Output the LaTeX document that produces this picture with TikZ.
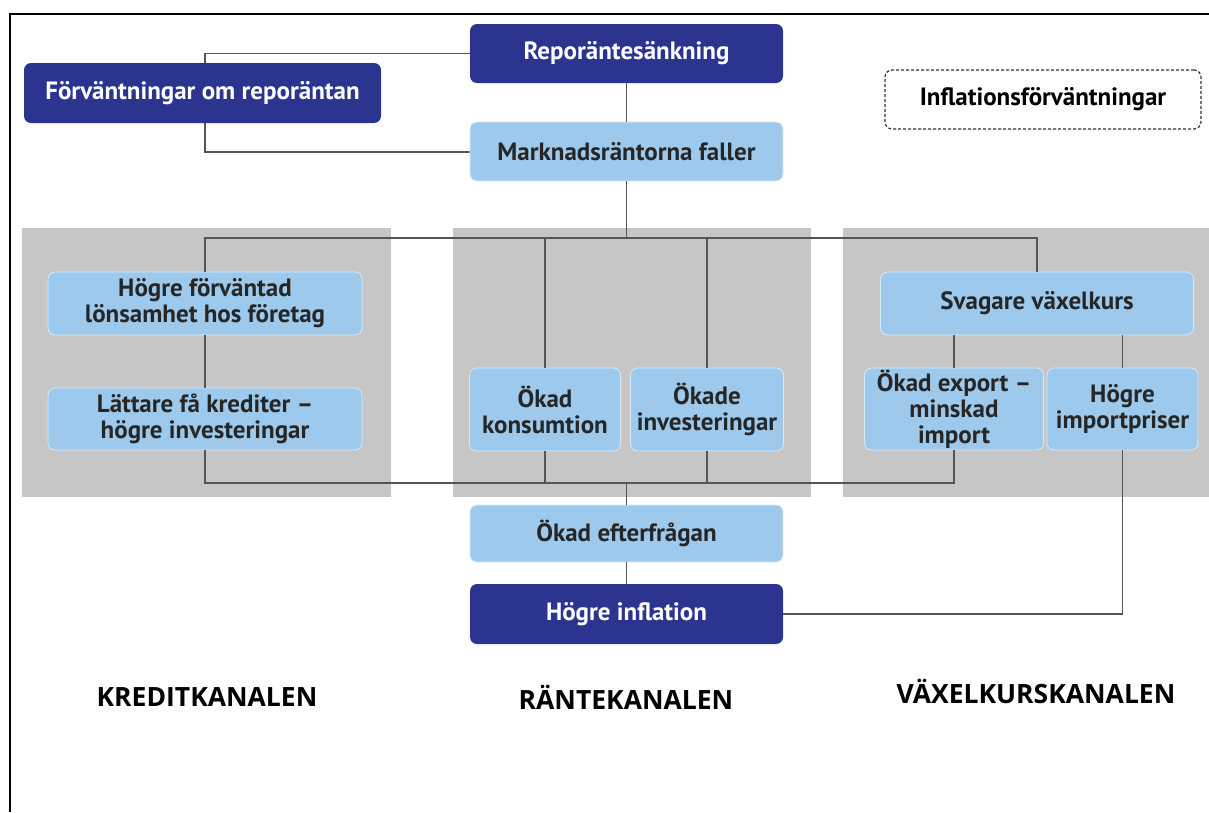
\documentclass[tikz,border=0pt]{standalone}
\usepackage{fontspec}
\setmainfont{PT Sans}
\newfontfamily\chanfont{Open Sans}
\usepackage{xcolor}
\usepackage{tikz}
\usetikzlibrary{calc, positioning}
\definecolor{navybox}{HTML}{2B3590}
\definecolor{skybox}{HTML}{9DCAEC}
\definecolor{panelgray}{HTML}{C6C6C6}
\definecolor{linegray}{HTML}{555555}

\begin{document}
\begin{tikzpicture}[x=1pt, y=-1pt,
    box/.style={rounded corners=7pt, align=center, font=\fontsize{25}{26}\selectfont\bfseries, inner sep=0pt},
    darkbox/.style={box, fill=navybox, text=white, minimum width=313pt, minimum height=59pt},
    lightbox/.style={box, fill=skybox, draw=white!60!skybox, line width=0.8pt, text=black!85},
    dashbox/.style={box, draw=black!80, dash pattern=on 3pt off 2pt, line width=1.2pt, fill=white, minimum width=316pt, minimum height=59pt},
    panel/.style={fill=panelgray, draw=none},
    conn/.style={draw=linegray, line width=1.6pt},
    chan/.style={font=\chanfont\fontsize{26.5}{30}\selectfont\bfseries}]
  \useasboundingbox (0,0) rectangle (1209,812);
  \fill[white] (0,0) rectangle (1209,812);
  \draw[line width=2.2pt] (10,812) -- (10,14) -- (1209,14);

  \fill[panel] (22,228) rectangle (391,497);
  \fill[panel] (453,228) rectangle (811,497);
  \fill[panel] (843,228) rectangle (1209,497);

  \coordinate (topbus) at (0,238);
  \coordinate (botbus) at (0,483);
  \coordinate (kx) at (205,0);

  \draw[conn] (470,53.5) -| (kx |- 152,152) -- (470,152);

  \node[darkbox] (repo) at (626.5,53.5) {Reporäntesänkning};
  \node[lightbox, minimum width=313pt, minimum height=59pt] (market) at (626.5,151.5) {Marknadsräntorna faller};
  \node[darkbox, minimum width=357pt, minimum height=60pt] (expect) at (202.5,93) {Förväntningar om reporäntan};
  \node[dashbox] (inflexp) at (1043,99.5) {Inflationsförväntningar};

  \node[lightbox, minimum width=314pt, minimum height=63pt] (profit) at (205,303.5) {Högre förväntad\\lönsamhet hos företag};
  \node[lightbox, minimum width=314pt, minimum height=62pt] (credit) at (205,419) {Lättare få krediter –\\högre investeringar};
  \node[lightbox, minimum width=151pt, minimum height=83pt] (consume) at (545,409.5) {Ökad\\konsumtion};
  \node[lightbox, minimum width=153pt, minimum height=83pt] (invest) at (707,409.5) {Ökade\\investeringar};
  \node[lightbox, minimum width=313pt, minimum height=63pt] (weak) at (1037,303.5) {Svagare växelkurs};
  \node[lightbox, minimum width=179pt, minimum height=82pt] (export) at (954,409) {Ökad export –\\minskad\\import};
  \node[lightbox, minimum width=151pt, minimum height=82pt] (import) at (1122.5,409) {Högre\\importpriser};

  \node[lightbox, minimum width=313pt, minimum height=57pt] (demand) at (626.5,533.5) {Ökad efterfrågan};
  \node[darkbox, minimum height=60pt] (inflation) at (626.5,614) {Högre inflation};

  \node[chan] (kredit) at (207,697) {KREDITKANALEN};
  \node[chan] (ranta) at (626,697) {RÄNTEKANALEN};
  \node[chan] (vaxel) at (1036,691) {VÄXELKURSKANALEN};

  \draw[conn] (repo) -- (market);
  \draw[conn] (market) -- (market |- topbus);
  \draw[conn] (profit.north) -- (profit.north |- topbus) -- (weak.north |- topbus) -- (weak.north);
  \draw[conn] (consume.north) -- (consume.north |- topbus);
  \draw[conn] (invest.north) -- (invest.north |- topbus);
  \draw[conn] (profit) -- (credit);
  \draw[conn] (credit.south) -- (credit.south |- botbus) -- (export.south |- botbus) -- (export.south);
  \draw[conn] (consume.south) -- (consume.south |- botbus);
  \draw[conn] (invest.south) -- (invest.south |- botbus);
  \draw[conn] (demand.north |- botbus) -- (demand.north);
  \draw[conn] (export.north) -- (export.north |- weak.south);
  \draw[conn] (import.north) -- (import.north |- weak.south);
  \draw[conn] (demand) -- (inflation);
  \draw[conn] (inflation.east) -| (import.south);
\end{tikzpicture}
\end{document}
